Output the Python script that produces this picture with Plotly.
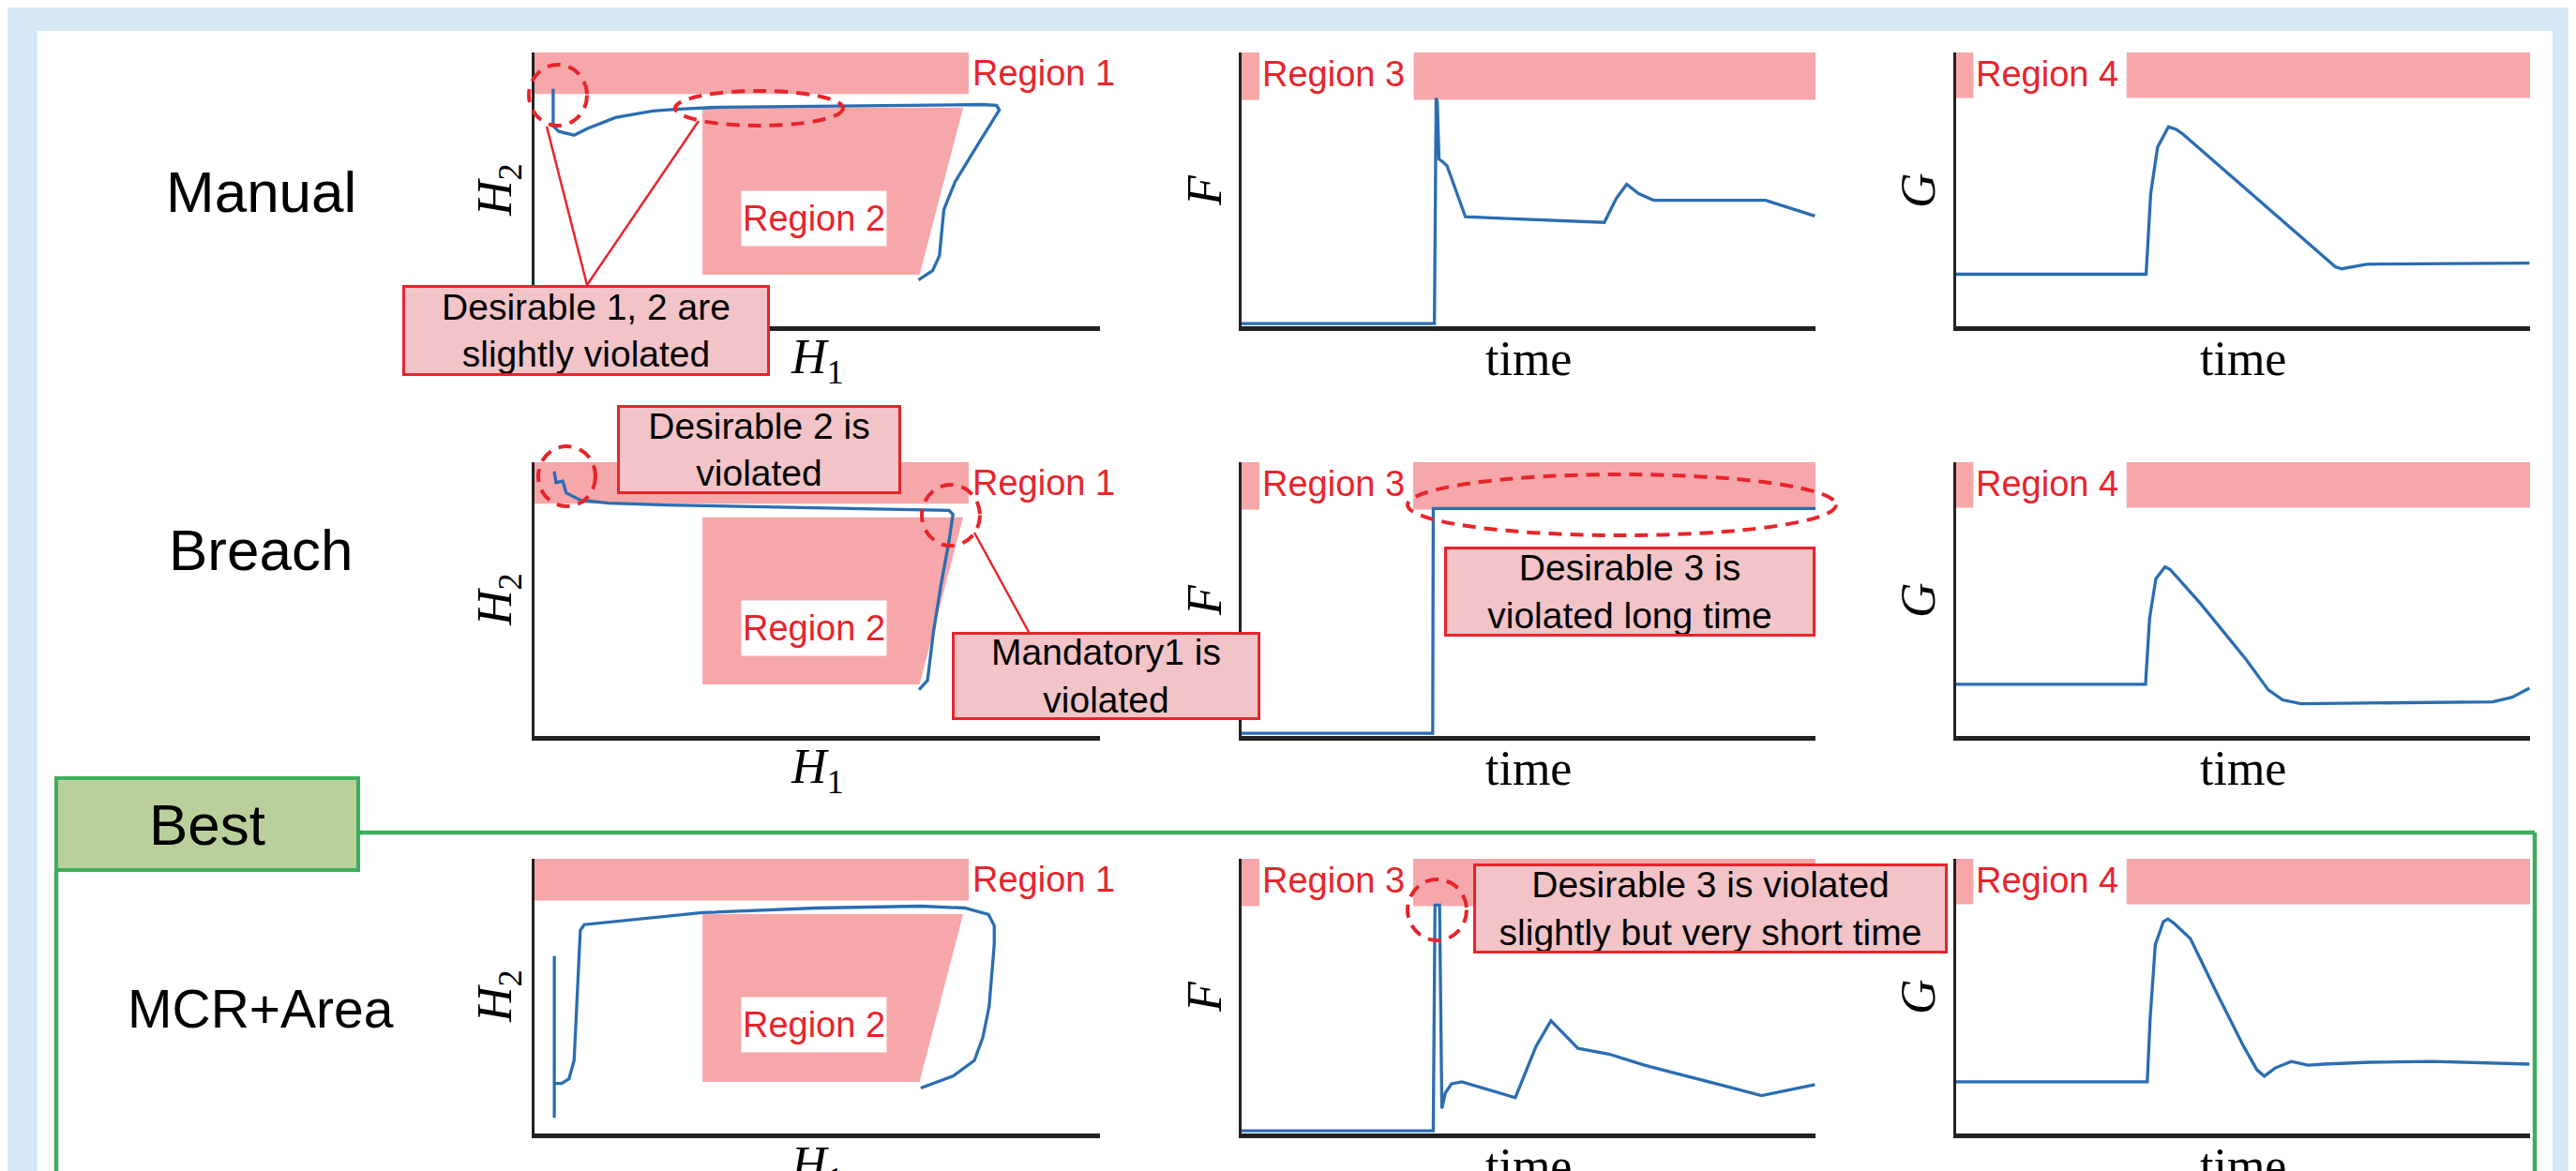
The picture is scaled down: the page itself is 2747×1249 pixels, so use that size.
import plotly.graph_objects as go

W, H = 2747, 1249

# ---------------- data (unitless; 0-100 scale) ----------------
manual_h1 = [3.3, 3.3, 4.3, 7.0, 9.3, 14.3, 20.9, 25.4, 32.6, 47.5, 64.1, 79.1, 81.7, 82.2, 78.4, 74.4, 72.4, 71.6, 70.4, 67.9]
manual_h2 = [86.6, 72.9, 70.9, 69.5, 71.9, 76.0, 78.4, 79.1, 79.8, 80.1, 80.5, 80.8, 80.5, 78.8, 66.1, 52.4, 42.1, 25.0, 19.5, 16.1]
manual_t_f = [0, 33.6, 33.9, 34.1, 34.4, 35.0, 35.8, 39.0, 46.3, 63.2, 65.3, 67.1, 69.2, 71.8, 91.3, 99.9]
manual_f = [0, 0, 83.2, 82.0, 60.6, 59.8, 58.2, 39.4, 38.7, 37.3, 46.2, 51.4, 47.9, 45.5, 45.5, 39.7]
manual_t_g = [0, 33.1, 33.9, 35.1, 37.0, 38.4, 39.5, 66.1, 67.2, 69.0, 71.5, 99.9]
manual_g = [18.2, 18.2, 47.9, 65.1, 72.6, 71.6, 69.9, 20.9, 20.2, 20.9, 21.9, 22.3]

breach_h1 = [3.5, 3.8, 5.0, 5.6, 8.1, 13.1, 23.1, 49.8, 73.3, 74.0, 73.3, 71.8, 70.5, 69.5, 68.0]
breach_h2 = [96.6, 92.5, 93.0, 88.7, 86.0, 84.9, 84.2, 83.2, 82.2, 80.8, 70.9, 53.8, 36.6, 19.5, 16.1]
breach_t_f = [0, 33.3, 33.4, 100]
breach_f = [0, 0, 82.9, 82.9]
breach_t_g = [0, 33.0, 33.7, 34.8, 36.4, 37.3, 42.6, 50.5, 54.4, 56.9, 60.1, 85.5, 93.5, 96.9, 99.9]
breach_g = [18.1, 18.1, 42.3, 57.0, 61.4, 60.4, 47.8, 27.3, 16.0, 12.3, 10.9, 11.3, 11.6, 13.3, 16.7]

mcr_h1 = [3.5, 3.5, 3.5, 4.8, 6.1, 7.0, 7.5, 8.1, 8.8, 19.7, 29.7, 49.8, 68.3, 76.1, 80.3, 81.3, 81.3, 80.4, 79.3, 77.8, 74.0, 68.3]
mcr_h2 = [64.2, 4.8, 17.4, 17.4, 19.1, 25.9, 48.1, 73.7, 75.8, 78.2, 80.2, 81.9, 82.6, 81.9, 79.5, 75.4, 68.6, 45.7, 34.5, 25.9, 20.1, 15.7]
mcr_t_f = [0, 33.4, 33.7, 34.5, 34.9, 35.5, 36.6, 38.4, 47.7, 51.3, 53.9, 58.6, 64.0, 70.2, 82.7, 90.6, 99.9]
mcr_f = [0, 0, 83.0, 83.0, 8.2, 13.9, 17.3, 18.0, 12.2, 31.0, 40.5, 30.3, 28.2, 24.1, 17.3, 12.9, 17.0]
mcr_t_g = [0, 33.3, 33.8, 34.7, 36.1, 36.9, 38.0, 40.8, 45.5, 50.1, 52.4, 53.7, 55.6, 58.4, 61.3, 64.1, 72.0, 82.9, 99.9]
mcr_g = [18.0, 18.0, 41.2, 68.4, 76.9, 77.9, 76.2, 70.7, 50.3, 31.0, 22.4, 20.1, 23.1, 25.5, 24.1, 24.5, 25.2, 25.5, 24.5]

row_names = ["Manual", "Breach", "MCR+Area"]
x_titles = ["<i>H</i><sub>1</sub>", "time", "time"]
y_titles = ["<i>H</i><sub>2</sub>", "<i>F</i>", "<i>G</i>"]
region_names = ["Region 1", "Region 2", "Region 3", "Region 4"]

series = [
    (manual_h1, manual_h2), (manual_t_f, manual_f), (manual_t_g, manual_g),
    (breach_h1, breach_h2), (breach_t_f, breach_f), (breach_t_g, breach_g),
    (mcr_h1, mcr_h2), (mcr_t_f, mcr_f), (mcr_t_g, mcr_g),
]

# region geometry (data units)
R1_X1, R1_Y0 = 76.8, 84.7
R2 = dict(xl=29.7, xtr=75.8, xbr=68.1, yb=18.0, yt=79.7)
F_BAND_LO = [82.5, 82.5, 82.6]
F_SEG_L, F_SEG_R = 3.1, [30.0, 29.9, 29.9]
G_BAND_LO = [83.2, 83.2, 83.3]
G_SEG_L, G_SEG_R = 3.0, [29.7, 29.7, 29.7]

# ---------------- style ----------------
LIGHT_BLUE = "#d6e8f5"
REGION_PINK = "#f6a7aa"
BOX_PINK = "#f2c4c7"
RED = "#e8242b"
BLUE = "#2a6db2"
GREEN = "#3dae5c"
BEST_FILL = "#bad09c"
AXIS = "#222222"
SANS = "Liberation Sans, Arial, sans-serif"
SERIF = "Liberation Serif, Times New Roman, serif"

ROW_TOP = [48, 485, 908]
ROW_BOT = [340, 777, 1201]
COL_L = [562, 1316, 2078]
COL_R = [1165, 1928, 2690]


def px(x):
    return x / W


def py(y):
    return 1 - y / H


fig = go.Figure()
shapes = []
annotations = []

for k, (xs, ys) in enumerate(series):
    row, col = divmod(k, 3)
    suf = "" if k == 0 else str(k + 1)
    xr, yr = "x" + suf, "y" + suf
    fig.add_trace(go.Scatter(x=xs, y=ys, mode="lines", line=dict(color=BLUE, width=3.3),
                             xaxis=xr, yaxis=yr, showlegend=False, hoverinfo="skip"))
    fig.update_layout(**{
        "xaxis" + suf: dict(domain=[px(COL_L[col]), px(COL_R[col])], range=[0, 100],
                            showgrid=False, zeroline=False, showticklabels=False, ticks="",
                            showline=True, linewidth=5, linecolor=AXIS, anchor=yr,
                            fixedrange=True, layer="below traces"),
        "yaxis" + suf: dict(domain=[py(ROW_BOT[row]), py(ROW_TOP[row])], range=[-1, 100],
                            showgrid=False, zeroline=False, showticklabels=False, ticks="",
                            showline=True, linewidth=3, linecolor=AXIS, anchor=xr,
                            fixedrange=True, layer="below traces"),
    })
    if col == 0:
        shapes.append(dict(type="rect", xref=xr, yref=yr, x0=0, x1=R1_X1, y0=R1_Y0, y1=100,
                           fillcolor=REGION_PINK, line=dict(width=0), layer="below"))
        path = (f"M {R2['xl']},{R2['yb']} L {R2['xl']},{R2['yt']} "
                f"L {R2['xtr']},{R2['yt']} L {R2['xbr']},{R2['yb']} Z")
        shapes.append(dict(type="path", xref=xr, yref=yr, path=path,
                           fillcolor=REGION_PINK, line=dict(width=0), layer="below"))
    else:
        lo = F_BAND_LO[row] if col == 1 else G_BAND_LO[row]
        segl = F_SEG_L if col == 1 else G_SEG_L
        segr = F_SEG_R[row] if col == 1 else G_SEG_R[row]
        for a, b in [(0, segl), (segr, 100)]:
            shapes.append(dict(type="rect", xref=xr, yref=yr, x0=a, x1=b, y0=lo, y1=100,
                               fillcolor=REGION_PINK, line=dict(width=0), layer="below"))


def text(t, x, y, size, color="black", family=SANS, angle=0, xanchor="center", **kw):
    d = dict(xref="paper", yref="paper", x=px(x), y=py(y), text=t, showarrow=False,
             xanchor=xanchor, yanchor="middle", textangle=angle,
             font=dict(family=family, size=size, color=color))
    d.update(kw)
    annotations.append(d)


def box(t, x0, x1, y0, y1, size=39, bg=BOX_PINK, border=RED, bw=3):
    annotations.append(dict(xref="paper", yref="paper", x=px((x0 + x1) / 2), y=py((y0 + y1) / 2),
                            xanchor="center", yanchor="middle", text=t, showarrow=False,
                            bgcolor=bg, bordercolor=border, borderwidth=bw, borderpad=0,
                            width=x1 - x0 - 2 * bw, height=y1 - y0 - 2 * bw,
                            font=dict(family=SANS, size=size, color="black")))


def ellipse(x0, x1, y0, y1):
    shapes.append(dict(type="circle", xref="paper", yref="paper", x0=px(x0), x1=px(x1),
                       y0=py(y1), y1=py(y0), line=dict(color=RED, width=4, dash="14px,9px"),
                       layer="above"))


def seg(x0, y0, x1, y1, color=RED, width=2.5, layer="above"):
    shapes.append(dict(type="line", xref="paper", yref="paper", x0=px(x0), y0=py(y0),
                       x1=px(x1), y1=py(y1), line=dict(color=color, width=width), layer=layer))


# background panel
shapes.insert(0, dict(type="rect", xref="paper", yref="paper", x0=px(32), x1=px(2714),
                      y0=py(1270), y1=py(25), fillcolor="white", line=dict(width=0), layer="below"))

# row labels, axis titles, region labels
row_label_y = [197, 578, 1068]
row_label_x = [270, 270, 270]
row_label_size = [62, 62, 57]
for row in range(3):
    text(row_names[row], row_label_x[row], row_label_y[row], row_label_size[row])
    top, bot = ROW_TOP[row], ROW_BOT[row]
    ymid = top + 147
    text(y_titles[0], 523, ymid, 52, family=SERIF, angle=-90)
    text(y_titles[1], 1276, ymid, 52, family=SERIF, angle=-90)
    text(y_titles[2], 2037, ymid, 52, family=SERIF, angle=-90)
    text(x_titles[0], 863, bot + 36, 52, family=SERIF)
    text(x_titles[1], 1622, bot + 34, 52, family=SERIF)
    text(x_titles[2], 2384, bot + 34, 52, family=SERIF)
    text(region_names[0], 1027, top + 22, 38, color=RED, xanchor="left")
    text(region_names[1], 860, top + 177, 38, color=RED, bgcolor="white", width=152, height=56)
    text(region_names[2], 1414, top + 23, 38, color=RED)
    text(region_names[3], 2175, top + 23, 38, color=RED)

# Best frame
seg(376, 880, 2695, 880, color=GREEN, width=4.5, layer="below")
seg(2695, 880, 2695, 1270, color=GREEN, width=4.5, layer="below")
seg(52, 922, 52, 1270, color=GREEN, width=4.5, layer="below")
box("Best", 50, 376, 820, 922, size=62, bg=BEST_FILL, border=GREEN, bw=4)

# Manual callouts
ellipse(556, 618, 61, 126)
ellipse(712, 891, 89, 126)
seg(618, 296, 575, 127)
seg(618, 296, 737, 121)
box("Desirable 1, 2 are<br>slightly violated", 421, 813, 296, 393)

# Breach callouts
ellipse(566, 627, 468, 532)
ellipse(975, 1037, 509, 574)
ellipse(1493, 1950, 498, 563)
seg(1089, 666, 1031, 560)
box("Desirable 2 is<br>violated", 650, 953, 424, 519)
box("Mandatory1 is<br>violated", 1007, 1336, 666, 760)
box("Desirable 3 is<br>violated long time", 1532, 1928, 575, 671)

# MCR+Area callouts
ellipse(1493, 1556, 930, 995)
box("Desirable 3 is violated<br>slightly but very short time", 1563, 2069, 913, 1009)

fig.update_layout(width=W, height=H, margin=dict(l=0, r=0, t=0, b=0),
                  paper_bgcolor=LIGHT_BLUE, plot_bgcolor="rgba(0,0,0,0)",
                  shapes=shapes, annotations=annotations, showlegend=False)

fig.write_html("out.html")
